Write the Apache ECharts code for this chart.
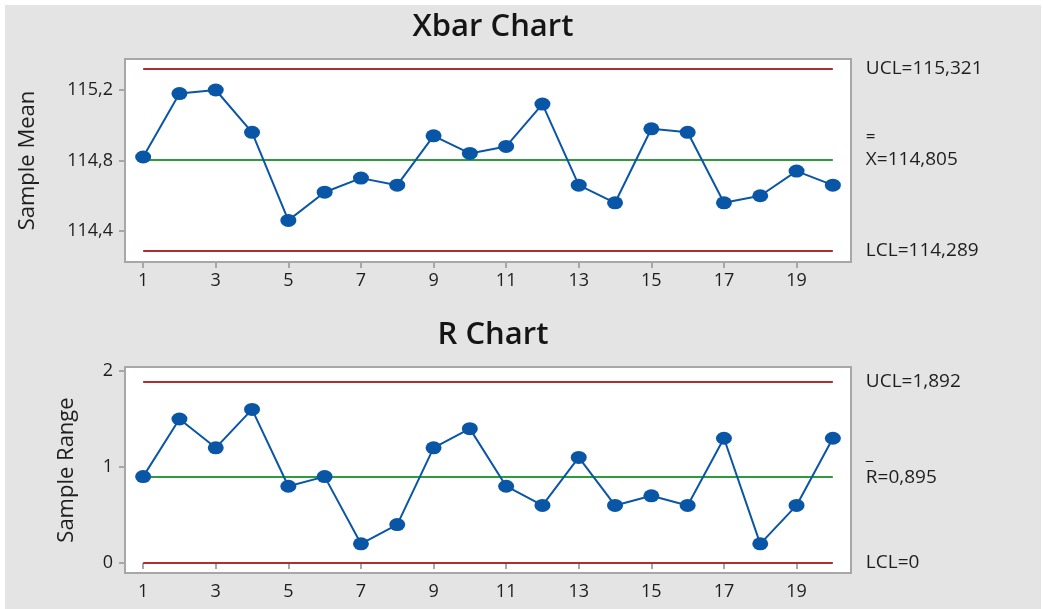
<!DOCTYPE html>
<html>
<head>
<meta charset="utf-8">
<script src="https://cdn.jsdelivr.net/npm/echarts@6/dist/echarts.min.js"></script>
<style>
  html, body { margin: 0; padding: 0; background: #ffffff; }
  #chart { position: absolute; left: 5px; top: 5px; width: 1036px; height: 604px; }
</style>
</head>
<body>
<div id="chart"></div>
<script>
// Subgroup numbers
const samples = [1, 2, 3, 4, 5, 6, 7, 8, 9, 10, 11, 12, 13, 14, 15, 16, 17, 18, 19, 20];
// Subgroup means (Xbar chart)
const sampleMeans = [114.82, 115.18, 115.20, 114.96, 114.46, 114.62, 114.70, 114.66, 114.94, 114.84,
                     114.88, 115.12, 114.66, 114.56, 114.98, 114.96, 114.56, 114.60, 114.74, 114.66];
// Subgroup ranges (R chart)
const sampleRanges = [0.9, 1.5, 1.2, 1.6, 0.8, 0.9, 0.2, 0.4, 1.2, 1.4,
                      0.8, 0.6, 1.1, 0.6, 0.7, 0.6, 1.3, 0.2, 0.6, 1.3];
// Control limits
const xbarLimits = { ucl: 115.321, center: 114.805, lcl: 114.289 };
const rLimits = { ucl: 1.892, center: 0.895, lcl: 0 };
// Tick labels
const xTicks = [1, 3, 5, 7, 9, 11, 13, 15, 17, 19];
const xbarTicks = [114.4, 114.8, 115.2];
const rTicks = [0, 1, 2];

const FONT = '"Open Sans", "Noto Sans", sans-serif';
const TEXT = '#1e1e1e';
const BLUE = '#0a56a6';
const RED = '#b02e2e';
const GREEN = '#2f9b3c';
const FRAME = '#a7a7a7';

const dec = v => String(v).replace('.', ',');
const pts = vals => samples.map((s, i) => [s, vals[i]]);

// Horizontal reference line from the first to the last subgroup, labelled on the right
function limitLine(value, color, text) {
  return [
    { coord: [samples[0], value], lineStyle: { color: color, width: 2, type: 'solid' },
      label: { show: true, position: 'end', distance: 33, formatter: text } },
    { coord: [samples[samples.length - 1], value] }
  ];
}

const labelRich = {
  t: { fontFamily: FONT, fontSize: 19, color: TEXT, lineHeight: 22 },
  o: { fontFamily: FONT, fontSize: 17, color: TEXT, lineHeight: 22 }
};

function controlSeries(xi, yi, vals, lim, centerText) {
  return {
    type: 'line',
    xAxisIndex: xi,
    yAxisIndex: yi,
    data: pts(vals),
    symbol: 'circle',
    symbolSize: [16, 13],
    lineStyle: { color: BLUE, width: 2 },
    itemStyle: { color: BLUE },
    z: 5,
    markLine: {
      silent: true,
      symbol: 'none',
      z: 2,
      label: { fontFamily: FONT, fontSize: 19, color: TEXT, rich: labelRich },
      data: [
        limitLine(lim.ucl, RED, '{t|UCL=' + dec(lim.ucl) + '}'),
        limitLine(lim.center, GREEN, centerText),
        limitLine(lim.lcl, RED, '{t|LCL=' + dec(lim.lcl) + '}')
      ]
    }
  };
}

function xAxisCfg(gi) {
  return {
    type: 'value', gridIndex: gi, min: 0.5, max: 20.5,
    axisLine: { show: false },
    splitLine: { show: false },
    axisTick: { show: true, length: 6, lineStyle: { color: FRAME, width: 2 }, customValues: xTicks },
    axisLabel: { fontFamily: FONT, fontSize: 18, fontWeight: 500, color: TEXT, margin: 10, customValues: xTicks }
  };
}

function yAxisCfg(gi, min, max, ticks, name, gap, fmt) {
  return {
    type: 'value', gridIndex: gi, min: min, max: max,
    name: name, nameLocation: 'middle', nameGap: gap,
    nameTextStyle: { fontFamily: FONT, fontSize: 22, color: TEXT },
    axisLine: { show: false },
    splitLine: { show: false },
    axisTick: { show: true, length: 6, lineStyle: { color: FRAME, width: 2 }, customValues: ticks },
    axisLabel: { fontFamily: FONT, fontSize: 18, fontWeight: 500, color: TEXT, margin: 12, customValues: ticks, formatter: fmt }
  };
}

const chart = echarts.init(document.getElementById('chart'), null, { renderer: 'canvas' });
chart.setOption({
  backgroundColor: '#e4e4e4',
  animation: false,
  title: [
    { text: 'Xbar Chart', left: 483, top: 2, textAlign: 'center',
      textStyle: { fontFamily: FONT, fontSize: 31, fontWeight: 600, color: '#151515' } },
    { text: 'R Chart', left: 483, top: 310, textAlign: 'center',
      textStyle: { fontFamily: FONT, fontSize: 31, fontWeight: 600, color: '#151515' } }
  ],
  grid: [
    { left: 120, top: 54, width: 726, height: 203, show: true, backgroundColor: '#ffffff',
      borderColor: FRAME, borderWidth: 2 },
    { left: 120, top: 362, width: 726, height: 206, show: true, backgroundColor: '#ffffff',
      borderColor: FRAME, borderWidth: 2 }
  ],
  xAxis: [xAxisCfg(0), xAxisCfg(1)],
  yAxis: [
    yAxisCfg(0, 114.224, 115.376, xbarTicks, 'Sample Mean', 86, v => v.toFixed(1).replace('.', ',')),
    yAxisCfg(1, -0.104, 2.042, rTicks, 'Sample Range', 47, v => String(v))
  ],
  series: [
    controlSeries(0, 0, sampleMeans, xbarLimits,
      '{o|=}\n{t|X=' + dec(xbarLimits.center) + '}\n{t| }'),
    controlSeries(1, 1, sampleRanges, rLimits,
      '{o|_}\n{t|R=' + dec(rLimits.center) + '}\n{t| }')
  ]
});
</script>
</body>
</html>
